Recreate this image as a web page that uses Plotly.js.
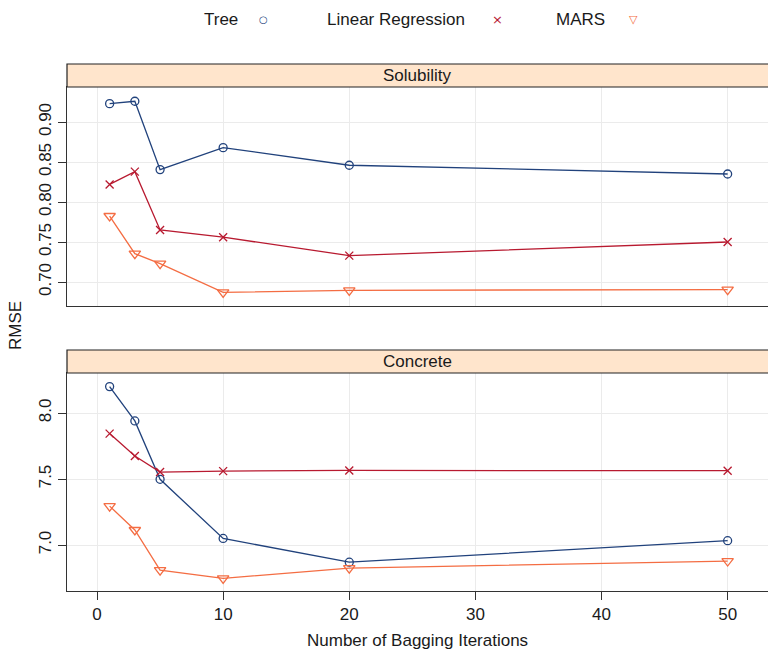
<!DOCTYPE html>
<html>
<head>
<meta charset="utf-8">
<script src="https://cdn.plot.ly/plotly-3.0.1.min.js"></script>
<style>html,body{margin:0;padding:0;background:#fff;}</style>
</head>
<body>
<div id="chart" style="width:768px;height:650px;"></div>
<script>
// Data
const iterations = [1, 3, 5, 10, 20, 50];
const modelNames = ["Tree", "Linear Regression", "MARS"];
const solubilityTree = [0.923, 0.926, 0.8405, 0.868, 0.846, 0.835];
const solubilityLR   = [0.822, 0.838, 0.765, 0.756, 0.733, 0.750];
const solubilityMARS = [0.7825, 0.7355, 0.723, 0.687, 0.6896, 0.6905];
const concreteTree = [8.20, 7.94, 7.498, 7.05, 6.87, 7.033];
const concreteLR   = [7.844, 7.674, 7.553, 7.56, 7.565, 7.563];
const concreteMARS = [7.295, 7.114, 6.81, 6.748, 6.825, 6.879];
const xTicks = [0, 10, 20, 30, 40, 50];
const solTicks = [0.70, 0.75, 0.80, 0.85, 0.90];
const conTicks = [7.0, 7.5, 8.0];
const panelNames = ["Solubility", "Concrete"];

const colors = ["#21427c", "#b81a30", "#f46d43"];
const symbols = ["circle-open", "x-thin-open", "triangle-down-open"];
const msizes = [8, 8, 10];

function tr(x, y, i, xa, ya) {
  return {
    x: x, y: y, xaxis: xa, yaxis: ya, type: "scatter", mode: "lines+markers",
    name: modelNames[i], showlegend: false,
    line: {color: colors[i], width: 1.3},
    marker: {symbol: symbols[i], size: msizes[i], color: colors[i], line: {color: colors[i], width: 1.3}}
  };
}
const data = [
  tr(iterations, solubilityTree, 0, "x2", "y2"),
  tr(iterations, solubilityLR, 1, "x2", "y2"),
  tr(iterations, solubilityMARS, 2, "x2", "y2"),
  tr(iterations, concreteTree, 0, "x", "y"),
  tr(iterations, concreteLR, 1, "x", "y"),
  tr(iterations, concreteMARS, 2, "x", "y")
];

const H = 650, L = 67, W = 768 - L;
const py = v => 1 - v / H;
const px = v => (v - L) / W;
const xr = [-2.38, 53.2];
const font = "Liberation Sans, Arial, Helvetica, sans-serif";
const gridc = "#ebebeb", linec = "#333333";

const baseX = {
  range: xr, tickvals: xTicks, showgrid: true, gridcolor: gridc, gridwidth: 1,
  zeroline: false, showline: true, linecolor: linec, linewidth: 1, mirror: true
};

const layout = {
  width: 768, height: 650,
  margin: {l: L, r: 0, t: 0, b: 0},
  paper_bgcolor: "#ffffff", plot_bgcolor: "#ffffff",
  font: {family: font, size: 17, color: "#1a1a1a"},
  showlegend: false,
  xaxis: Object.assign({}, baseX, {
    anchor: "y", domain: [0, 1], ticks: "outside", ticklen: 8, tickcolor: linec,
    tickfont: {size: 17, color: "#1a1a1a"}
  }),
  xaxis2: Object.assign({}, baseX, {
    anchor: "y2", domain: [0, 1], matches: "x", showticklabels: false, ticks: ""
  }),
  xaxis3: {
    overlaying: "x2", anchor: "free", position: py(64), side: "top", range: xr,
    tickvals: xTicks, ticks: "outside", ticklen: 9, tickcolor: linec,
    showticklabels: false, showgrid: false, showline: false, zeroline: false
  },
  yaxis: {
    anchor: "x", domain: [py(591), py(373)], range: [6.652, 8.303],
    tickvals: conTicks, ticktext: conTicks.map(v => v.toFixed(1)), tickangle: -90,
    ticks: "outside", ticklen: 8, tickcolor: linec, tickfont: {size: 17, color: "#1a1a1a"},
    showgrid: true, gridcolor: gridc, zeroline: false,
    showline: true, linecolor: linec, linewidth: 1, mirror: false
  },
  yaxis2: {
    anchor: "x2", domain: [py(306), py(87)], range: [0.67, 0.9438],
    tickvals: solTicks, ticktext: solTicks.map(v => v.toFixed(2)), tickangle: -90,
    ticks: "outside", ticklen: 8, tickcolor: linec, tickfont: {size: 17, color: "#1a1a1a"},
    showgrid: true, gridcolor: gridc, zeroline: false,
    showline: true, linecolor: linec, linewidth: 1, mirror: false
  },
  shapes: [
    {type: "rect", xref: "paper", yref: "paper", x0: 0, x1: 1.05, y0: py(87), y1: py(64),
     fillcolor: "#ffe5cc", line: {color: "#222222", width: 1.2}, layer: "above"},
    {type: "rect", xref: "paper", yref: "paper", x0: 0, x1: 1.05, y0: py(373), y1: py(350),
     fillcolor: "#ffe5cc", line: {color: "#222222", width: 1.2}, layer: "above"}
  ],
  annotations: [
    {text: panelNames[0], xref: "paper", yref: "paper", x: 0.5, y: py(75.5), showarrow: false,
     xanchor: "center", yanchor: "middle", font: {size: 17, color: "#1a1a1a"}},
    {text: panelNames[1], xref: "paper", yref: "paper", x: 0.5, y: py(361.5), showarrow: false,
     xanchor: "center", yanchor: "middle", font: {size: 17, color: "#1a1a1a"}},
    {text: "RMSE", xref: "paper", yref: "paper", x: px(15), y: py(325), textangle: -90,
     showarrow: false, xanchor: "center", yanchor: "middle", font: {size: 17, color: "#1a1a1a"}},
    {text: "Number of Bagging Iterations", xref: "paper", yref: "paper", x: px(418), y: py(640),
     showarrow: false, xanchor: "center", yanchor: "middle", font: {size: 17, color: "#1a1a1a"}},
    {text: modelNames[0], xref: "paper", yref: "paper", x: px(221), y: py(19), showarrow: false,
     xanchor: "center", yanchor: "middle", font: {size: 17, color: "#1a1a1a"}},
    {text: modelNames[1], xref: "paper", yref: "paper", x: px(396), y: py(19), showarrow: false,
     xanchor: "center", yanchor: "middle", font: {size: 17, color: "#1a1a1a"}},
    {text: modelNames[2], xref: "paper", yref: "paper", x: px(580), y: py(19), showarrow: false,
     xanchor: "center", yanchor: "middle", font: {size: 17, color: "#1a1a1a"}},
    {text: "○", xref: "paper", yref: "paper", x: px(263), y: py(19), showarrow: false,
     xanchor: "center", yanchor: "middle", font: {family: "DejaVu Sans", size: 10, color: colors[0]}},
    {text: "×", xref: "paper", yref: "paper", x: px(497), y: py(19), showarrow: false,
     xanchor: "center", yanchor: "middle", font: {family: "DejaVu Sans", size: 13, color: colors[1]}},
    {text: "▽", xref: "paper", yref: "paper", x: px(633), y: py(19), showarrow: false,
     xanchor: "center", yanchor: "middle", font: {family: "DejaVu Sans", size: 11, color: colors[2]}}
  ]
};

Plotly.newPlot("chart", data, layout, {displayModeBar: false, staticPlot: true});
</script>
</body>
</html>
